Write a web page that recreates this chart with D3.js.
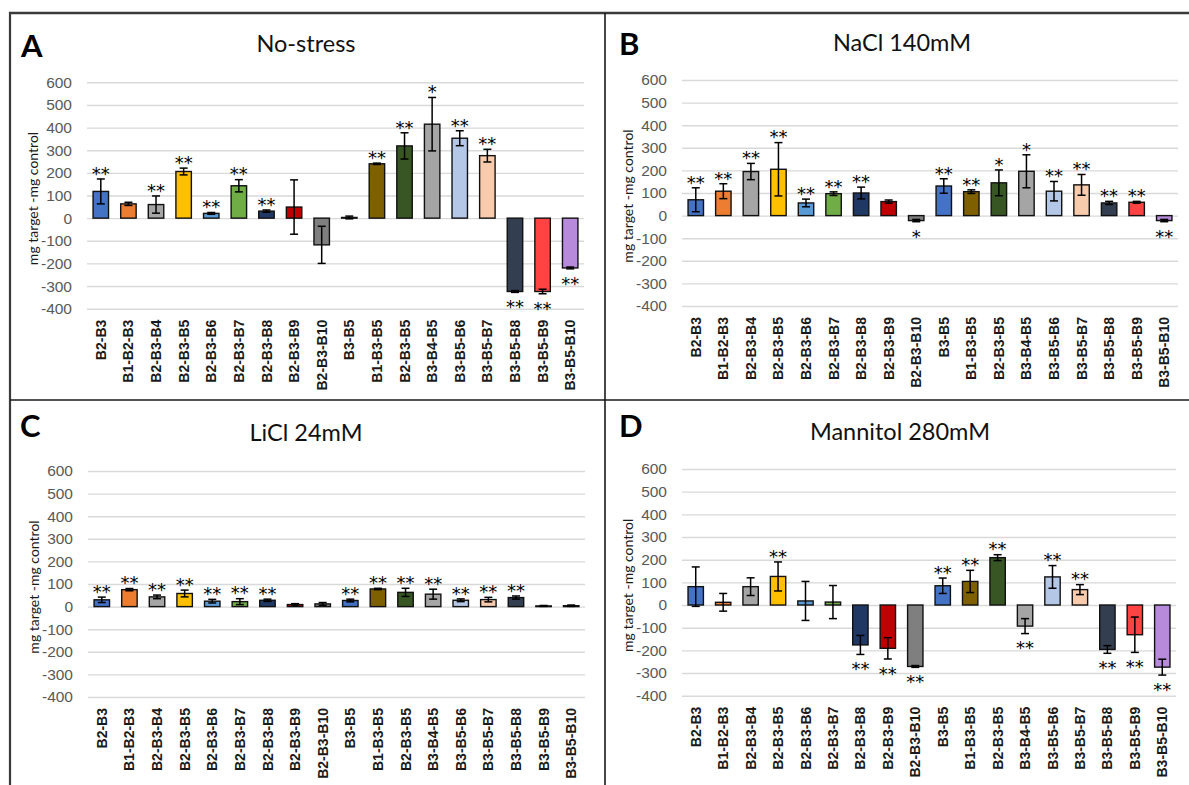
<!DOCTYPE html>
<html>
<head>
<meta charset="utf-8">
<script src="https://cdn.jsdelivr.net/npm/d3@7"></script>
<style>
  html, body { margin: 0; padding: 0; background: #fff; }
  svg { display: block; font-family: Lato, "Open Sans", "Liberation Sans", sans-serif; }
</style>
</head>
<body>
<svg id="chart" width="1189" height="785"></svg>
<script>
// ---------- data ----------
const categories = ["B2-B3","B1-B2-B3","B2-B3-B4","B2-B3-B5","B2-B3-B6","B2-B3-B7","B2-B3-B8","B2-B3-B9","B2-B3-B10",
  "B3-B5","B1-B3-B5","B2-B3-B5","B3-B4-B5","B3-B5-B6","B3-B5-B7","B3-B5-B8","B3-B5-B9","B3-B5-B10"];
const barColors = ["#4472C4","#ED7D31","#A5A5A5","#FFC000","#5B9BD5","#70AD47","#1F3864","#C00000","#7F7F7F",
  "#4472C4","#7F6000","#375623","#A5A5A5","#B4C7E7","#F8CBAD","#333F50","#FF4343","#B78ADB"];
const yTicks = [600,500,400,300,200,100,0,-100,-200,-300,-400];

const noStressValues = [118, 63, 60, 206, 21, 143, 31, 49, -118, 3, 240, 319, 415, 353, 276, -324, -324, -220];
const noStressErrors = [55, 7, 38, 15, 4, 27, 5, 120, 82, 6, 3, 58, 118, 33, 28, 4, 10, 4];
const noStressStars  = ["**","","**","**","**","**","**","","","","**","**","*","**","**","**","**","**"];

const naclValues = [70, 108, 195, 205, 56, 97, 100, 62, -22, 131, 106, 145, 196, 108, 136, 56, 59, -22];
const naclErrors = [53, 33, 36, 118, 17, 8, 26, 7, 5, 32, 8, 57, 73, 43, 46, 7, 4, 5];
const naclStars  = ["**","**","**","**","**","**","**","","*","**","**","*","*","**","**","**","**","**"];

const liclValues = [30, 75, 43, 58, 24, 22, 28, 9, 12, 27, 78, 63, 55, 28, 31, 40, 3, 4];
const liclErrors = [12, 5, 8, 15, 8, 13, 5, 4, 6, 6, 3, 18, 22, 6, 10, 7, 2, 3];
const liclStars  = ["**","**","**","**","**","**","**","","","**","**","**","**","**","**","**","",""];

const mannitolValues = [81, 12, 81, 126, 18, 13, -176, -191, -271, 85, 104, 209, -93, 124, 68, -196, -131, -274];
const mannitolErrors = [87, 39, 39, 64, 86, 73, 42, 47, 4, 34, 49, 13, 33, 50, 22, 17, 78, 35];
const mannitolStars  = ["","","","**","","","**","**","**","**","**","**","**","**","**","**","**","**"];

const panelLetters = ["A","B","C","D"];
const panelTitles = ["No-stress","NaCl 140mM","LiCl 24mM","Mannitol 280mM"];
const yAxisTitle = "mg target -mg control";

// ---------- layout ----------
const panels = [
  {letter: panelLetters[0], title: panelTitles[0], values: noStressValues, errors: noStressErrors, stars: noStressStars,
   x0: 87, x1: 584, yTop: 82.3, yBot: 308.7, lx: 21, ly: 57, tx: 306, ty: 44},
  {letter: panelLetters[1], title: panelTitles[1], values: naclValues, errors: naclErrors, stars: naclStars,
   x0: 682, x1: 1178, yTop: 80, yBot: 306, lx: 619, ly: 55, tx: 902, ty: 43},
  {letter: panelLetters[2], title: panelTitles[2], values: liclValues, errors: liclErrors, stars: liclStars,
   x0: 88, x1: 585, yTop: 471, yBot: 697, lx: 20, ly: 437, tx: 306, ty: 433},
  {letter: panelLetters[3], title: panelTitles[3], values: mannitolValues, errors: mannitolErrors, stars: mannitolStars,
   x0: 682, x1: 1176, yTop: 469, yBot: 695.7, lx: 619, ly: 437, tx: 900, ty: 432}
];

const svg = d3.select("#chart");

// frame
const frame = svg.append("g").attr("fill", "none");
frame.append("line").attr("x1", 9).attr("x2", 1189).attr("y1", 13).attr("y2", 13)
  .attr("stroke", "#3a3a3a").attr("stroke-width", 2.5);
frame.append("line").attr("x1", 10).attr("x2", 10).attr("y1", 12).attr("y2", 785)
  .attr("stroke", "#3a3a3a").attr("stroke-width", 2.2);
frame.append("line").attr("x1", 605).attr("x2", 605).attr("y1", 13).attr("y2", 785)
  .attr("stroke", "#1a1a1a").attr("stroke-width", 1.6);
frame.append("line").attr("x1", 10).attr("x2", 1189).attr("y1", 400).attr("y2", 400)
  .attr("stroke", "#1a1a1a").attr("stroke-width", 1.6);

const idx = categories.map((c, i) => i);

panels.forEach(p => {
  const g = svg.append("g");
  const x = d3.scaleBand().domain(idx).range([p.x0, p.x1]).paddingInner(0.44).paddingOuter(0.22);
  const y = d3.scaleLinear().domain([-400, 600]).range([p.yBot, p.yTop]);

  // letter and title
  g.append("text").attr("x", p.lx).attr("y", p.ly).text(p.letter)
    .attr("font-size", 31).attr("font-weight", 700).attr("fill", "#000");
  g.append("text").attr("x", p.tx).attr("y", p.ty).attr("dy", "0.35em").attr("text-anchor", "middle")
    .text(p.title).attr("font-size", 23.5).attr("fill", "#111");

  // gridlines
  const grid = g.append("g").attr("transform", `translate(${p.x0},0)`)
    .call(d3.axisLeft(y).tickValues(yTicks).tickSize(-(p.x1 - p.x0)).tickFormat(""));
  grid.select(".domain").remove();
  grid.selectAll("line").attr("stroke", "#D9D9D9").attr("stroke-width", 1.4);

  // y tick labels
  const yAxis = g.append("g").attr("transform", `translate(${p.x0},0)`)
    .call(d3.axisLeft(y).tickValues(yTicks).tickSize(0).tickPadding(15).tickFormat(d => String(d)));
  yAxis.select(".domain").remove();
  yAxis.selectAll("text").attr("font-size", 15.5).attr("fill", "#595959").attr("font-family", null);

  // y title
  g.append("text")
    .attr("transform", `translate(${p.x0 - 54},${(p.yTop + p.yBot) / 2 + 3}) rotate(-90)`)
    .attr("text-anchor", "middle").attr("dy", "0.35em")
    .attr("font-size", 14).attr("fill", "#1a1a1a").text(yAxisTitle);

  // x axis labels
  const xAxis = g.append("g").attr("transform", `translate(0,${p.yBot})`)
    .call(d3.axisBottom(x).tickSize(0).tickFormat(i => categories[i]));
  xAxis.select(".domain").remove();
  xAxis.selectAll("text")
    .attr("transform", "rotate(-90)").attr("x", -11).attr("y", 0).attr("dy", "0.36em")
    .style("text-anchor", "end").attr("font-size", 14).attr("font-weight", 700)
    .attr("fill", "#1a1a1a").attr("font-family", null);

  const rows = idx.map(i => ({i, v: p.values[i], e: p.errors[i], s: p.stars[i], col: barColors[i]}));

  // bars
  g.append("g").selectAll("rect").data(rows).join("rect")
    .attr("x", d => x(d.i))
    .attr("width", x.bandwidth())
    .attr("y", d => y(Math.max(0, d.v)))
    .attr("height", d => Math.abs(y(d.v) - y(0)))
    .attr("fill", d => d.col)
    .attr("stroke", "#111").attr("stroke-width", 1.4);

  // error bars
  const eb = g.append("g").attr("stroke", "#000").attr("stroke-width", 1.5);
  rows.forEach(d => {
    const cx = x(d.i) + x.bandwidth() / 2;
    eb.append("line").attr("x1", cx).attr("x2", cx).attr("y1", y(d.v - d.e)).attr("y2", y(d.v + d.e));
    eb.append("line").attr("x1", cx - 4).attr("x2", cx + 4).attr("y1", y(d.v + d.e)).attr("y2", y(d.v + d.e));
    eb.append("line").attr("x1", cx - 4).attr("x2", cx + 4).attr("y1", y(d.v - d.e)).attr("y2", y(d.v - d.e));
  });

  // significance stars
  const fs = 18;
  g.append("g").selectAll("text").data(rows.filter(d => d.s)).join("text")
    .attr("x", d => x(d.i) + x.bandwidth() / 2)
    .attr("y", d => d.v >= 0 ? y(d.v + d.e) - 10 + 0.6 * fs : y(d.v - d.e) + 10 + 0.6 * fs)
    .attr("text-anchor", "middle").attr("font-size", fs).attr("fill", "#000")
    .attr("font-family", "'DejaVu Sans', sans-serif")
    .text(d => d.s);
});
</script>
</body>
</html>
